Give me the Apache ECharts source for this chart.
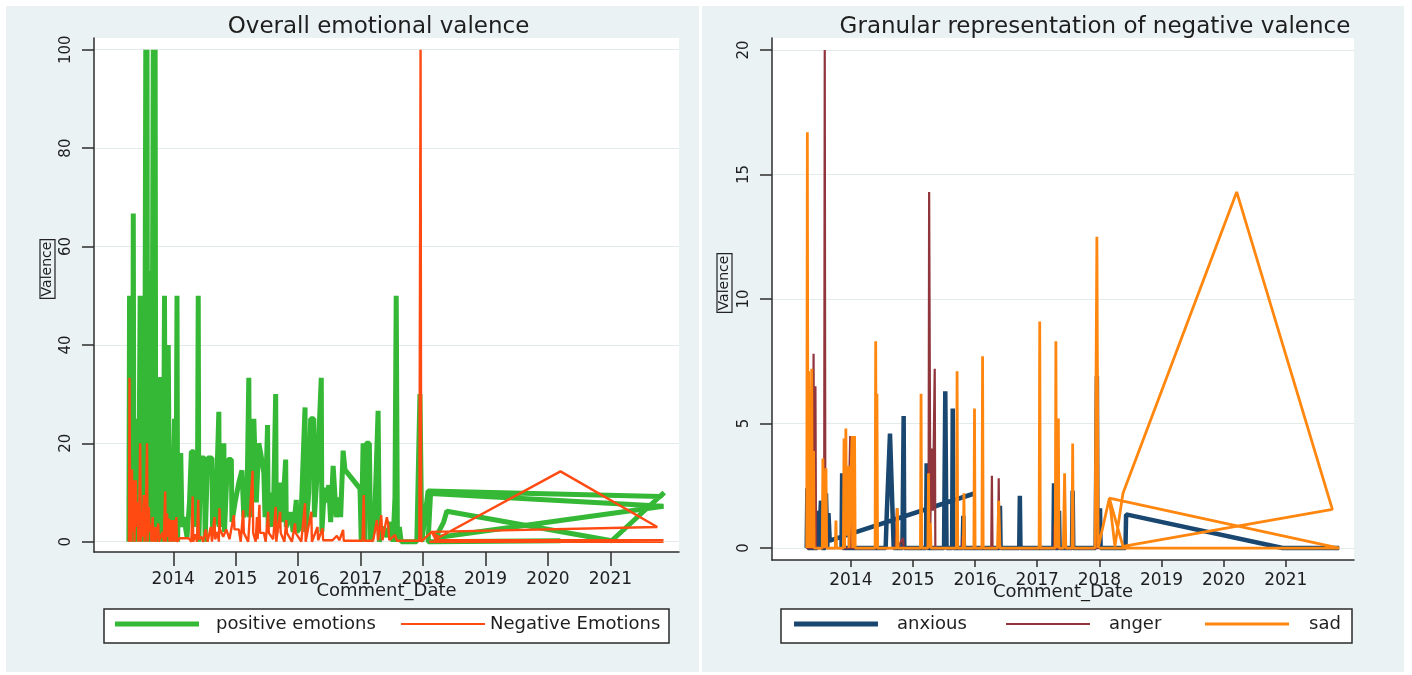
<!DOCTYPE html>
<html>
<head>
<meta charset="utf-8">
<script src="https://cdn.jsdelivr.net/npm/echarts@6/dist/echarts.min.js"></script>
<style>
html, body { margin: 0; padding: 0; background: #ffffff; }
#chart { width: 1412px; height: 675px; }
</style>
</head>
<body>
<div id="chart"></div>
<script>
// tick labels
const yearTicks = [2014, 2015, 2016, 2017, 2018, 2019, 2020, 2021]
const overallTicks = [0, 20, 40, 60, 80, 100]
const granularTicks = [0, 5, 10, 15, 20]

// [Comment_Date as decimal year, valence] in the order the rows are plotted
const positiveEmotions = [
    [2013.29,0],[2013.30,50],[2013.305,20],[2013.31,50],[2013.32,0],[2013.33,12],[2013.34,25],[2013.35,0],[2013.36,66.7],[2013.37,5],
    [2013.38,20],[2013.39,25],[2013.40,0],[2013.41,25],[2013.42,2],[2013.43,15],[2013.44,20],[2013.45,0],[2013.46,30],[2013.47,50],[2013.48,10],
    [2013.49,40],[2013.50,50],[2013.51,0],[2013.52,20],[2013.53,33],[2013.54,5],[2013.55,50],[2013.56,100],[2013.57,30],[2013.58,100],[2013.59,0],
    [2013.60,33],[2013.61,55],[2013.62,10],[2013.63,40],[2013.64,0],[2013.65,25],[2013.66,20],[2013.68,100],[2013.69,50],[2013.71,100],
    [2013.72,0],[2013.73,20],[2013.74,33.3],[2013.75,5],[2013.76,16],[2013.77,25],[2013.78,0],[2013.79,12],[2013.80,33.5],[2013.81,3],[2013.82,10],[2013.83,20],
    [2013.84,0],[2013.85,25],[2013.86,50],[2013.87,5],[2013.88,20],[2013.89,40],[2013.90,0],[2013.91,15],[2013.92,40],[2013.93,20],[2013.94,0],
    [2013.96,10],[2013.97,18],[2013.98,0],[2014.00,12],[2014.02,25],[2014.03,3],[2014.05,20],[2014.06,50],[2014.07,0],[2014.09,18],[2014.10,5],
    [2014.12,18],[2014.14,3],[2014.17,5],[2014.22,1],[2014.26,8],[2014.29,18.3],[2014.33,18.3],[2014.35,3],
    [2014.39,18],[2014.40,50],[2014.41,0],[2014.44,17],[2014.50,17],[2014.51,0],[2014.55,17],[2014.62,17],
    [2014.63,2],[2014.68,5],[2014.73,26.4],[2014.74,3],[2014.78,15],[2014.81,20],[2014.82,2],[2014.86,14],
    [2014.88,16.7],[2014.93,16.7],[2014.94,4],[2014.99,8],[2015.05,12],[2015.10,14.5],[2015.13,5],[2015.18,8],
    [2015.21,33.3],[2015.22,5],[2015.26,20],[2015.29,25],[2015.32,25],[2015.33,8],[2015.37,20],[2015.40,18],
    [2015.45,14],[2015.47,5],[2015.51,23.7],[2015.52,3],[2015.57,10],[2015.60,3],[2015.64,30],[2015.65,2],
    [2015.70,12],[2015.74,4],[2015.80,16.7],[2015.81,3],[2015.88,6],[2015.92,2],[2015.97,8.5],[2015.98,2],
    [2016.04,3],[2016.11,27.3],[2016.12,2],[2016.17,10],[2016.20,25],[2016.25,25],[2016.26,5],[2016.31,15],
    [2016.37,33.3],[2016.38,2],[2016.42,11],[2016.45,8],[2016.49,11.5],[2016.52,4],[2016.56,15.4],[2016.59,15.2],
    [2016.61,5],[2016.65,9],[2016.68,5],[2016.72,18.5],[2016.75,14.6],[2016.99,10.8],[2017.01,0],[2017.04,20],
    [2017.07,0],[2017.09,20],[2017.14,20],[2017.16,0],[2017.22,3],[2017.28,26.6],[2017.30,0],[2017.36,3],
    [2017.42,1],[2017.48,4],[2017.52,0],[2017.55,9],[2017.57,50],[2017.59,0],[2017.62,3],[2017.65,0],
    [2017.90,0],[2017.95,30],[2017.98,0],[2018.08,10.3],[2021.80,9.2],[2021.86,10],[2021.02,0.2],[2018.38,6.2],
    [2018.33,4],[2018.20,0.8],[2021.85,7.2],[2018.12,9.8],[2018.08,0],[2020.20,0.2],[2018.15,0]
]

const negativeEmotions = [
    [2013.29,0],[2013.30,33.3],[2013.31,0],[2013.32,8],[2013.33,0],[2013.34,14.7],[2013.35,2],[2013.36,10],[2013.37,12.5],
    [2013.38,0],[2013.39,8],[2013.40,12.5],[2013.41,3],[2013.42,6],[2013.43,8],[2013.44,0],[2013.46,10],[2013.47,20],[2013.48,0],[2013.50,6],
    [2013.51,1],[2013.52,7],[2013.53,9.5],[2013.54,0],[2013.56,3],[2013.57,12],[2013.58,20],[2013.59,0],[2013.60,5],[2013.61,7],[2013.62,2],
    [2013.64,3.5],[2013.65,0],[2013.67,5],[2013.68,0],[2013.71,3],[2013.72,0],[2013.76,3.7],[2013.77,0],
    [2013.80,1],[2013.83,2],[2013.85,0],[2013.87,10.2],[2013.88,0],[2013.90,5.8],[2013.91,1],[2013.93,4.7],
    [2013.94,0],[2013.97,4.4],[2013.98,0],[2014.01,4.4],[2014.02,0],[2014.05,5],[2014.06,0],[2014.10,0.7],
    [2014.25,0.7],[2014.29,0],[2014.31,9.2],[2014.32,0],[2014.35,1.5],[2014.38,0],[2014.40,8.5],[2014.41,0.5],
    [2014.45,1],[2014.48,0],[2014.52,2.5],[2014.55,0],[2014.60,3],[2014.62,0],[2014.66,5],[2014.67,0.5],
    [2014.71,2],[2014.73,0],[2014.74,6.8],[2014.75,2.5],[2014.80,1],[2014.85,2.5],[2014.90,0.5],[2014.97,5.4],
    [2014.98,2.5],[2015.05,2.5],[2015.08,0],[2015.12,6.4],[2015.13,1.8],[2015.20,0],[2015.27,14.4],[2015.28,1.8],
    [2015.32,0],[2015.34,5],[2015.35,0.5],[2015.38,7.5],[2015.39,1.8],[2015.45,1.8],[2015.48,0],[2015.52,6.1],
    [2015.53,1.8],[2015.60,0.5],[2015.64,7.1],[2015.65,0],[2015.71,6.1],[2015.72,1.8],[2015.78,0],[2015.81,4.4],
    [2015.82,1.8],[2015.90,0],[2015.95,3.7],[2015.96,1.8],[2016.05,0],[2016.11,7.8],[2016.12,0],[2016.21,6.1],
    [2016.22,0],[2016.31,3],[2016.32,0.3],[2016.39,2.7],[2016.40,0.3],[2016.55,0.3],[2016.62,1.2],[2016.66,0.3],
    [2016.72,2.4],[2016.73,0.2],[2017.03,0.2],[2017.05,9.5],[2017.06,0.2],[2017.20,0.2],[2017.26,4.4],[2017.28,0.3],
    [2017.33,5.4],[2017.35,0.3],[2017.42,5],[2017.44,3.7],[2017.46,0.3],[2017.55,1.4],[2017.58,0.2],[2017.94,0.2],
    [2017.96,100],[2017.97,0],[2018.14,2.0],[2018.20,0.5],[2020.20,14.3],[2021.75,3.0],[2018.12,2.0],[2018.25,1.0],
    [2018.18,0.3],[2021.85,0.3],[2018.10,0],[2021.85,0]
]

const anxious = [
    [2013.29,0],[2013.30,2.4],[2013.31,0],[2013.46,0],[2013.47,1.5],[2013.48,0],[2013.51,0],[2013.52,1.9],
    [2013.53,0],[2013.59,0],[2013.60,2.2],[2013.62,0],[2013.64,1.4],[2013.66,0.3],[2016.00,2.2],[2016.00,null],
    [2013.85,0],[2013.86,3.0],[2013.87,0],[2014.56,0],[2014.58,1.5],[2014.63,4.6],[2014.69,0],[2014.83,0],
    [2014.85,5.3],[2014.86,0],[2015.21,0],[2015.22,3.4],[2015.23,0],[2015.50,0],[2015.52,6.3],[2015.54,0],
    [2015.63,0],[2015.64,5.6],[2015.65,0],[2015.80,0],[2015.81,1.3],[2015.82,0],[2016.39,0],[2016.40,1.7],
    [2016.41,0],[2016.71,0],[2016.72,2.1],[2016.73,0],[2017.26,0],[2017.27,2.6],[2017.28,0],[2017.34,0],
    [2017.35,1.5],[2017.36,0],[2017.56,0],[2017.57,2.3],[2017.58,0],[2017.94,0],[2017.96,6.9],[2017.97,0],
    [2018.01,1.6],[2018.02,0],[2018.42,0],[2018.43,1.35],[2020.95,0],[2021.86,0]
]

const anger = [
    [2013.29,0],[2013.39,0],[2013.40,7.8],[2013.41,0],[2013.43,6.5],[2013.44,0],[2013.57,0],[2013.58,20],
    [2013.59,0],[2013.61,1.4],[2013.62,0],[2013.97,0],[2013.98,3.3],[2013.99,4.5],[2014.00,0],[2014.72,0],
    [2014.74,1.6],[2014.75,0],[2014.84,0.4],[2014.85,0],[2015.25,0],[2015.26,14.3],[2015.28,1.0],[2015.30,4.0],
    [2015.32,1.5],[2015.35,7.2],[2015.36,0],[2015.79,0],[2015.80,0.5],[2015.81,0],[2016.26,0],[2016.27,2.9],
    [2016.28,0],[2016.37,0],[2016.38,2.8],[2016.39,0],[2017.27,0],[2017.28,1.0],[2017.29,0],[2017.94,0],
    [2017.95,1.6],[2017.96,0],[2018.00,0]
]

const sad = [
    [2013.29,0],[2013.30,16.7],[2013.31,0],[2013.32,7.1],[2013.33,0.5],[2013.34,6.2],[2013.35,0],[2013.37,7.2],
    [2013.38,0],[2013.40,3.9],[2013.41,0],[2013.54,0],[2013.55,3.6],[2013.57,0],[2013.60,3.2],[2013.61,0],
    [2013.75,0],[2013.76,1.1],[2013.77,0],[2013.88,0],[2013.89,4.4],[2013.90,0],[2013.92,4.8],[2013.93,0.5],
    [2013.96,3.3],[2013.97,0],[2014.02,4.5],[2014.03,0],[2014.06,4.5],[2014.07,0],[2014.39,0],[2014.40,8.3],
    [2014.41,0],[2014.42,6.2],[2014.43,0],[2014.74,0],[2014.75,1.6],[2014.76,0],[2015.12,0],[2015.13,6.2],
    [2015.14,0],[2015.24,0],[2015.25,3.0],[2015.26,0],[2015.28,1.0],[2015.29,0],[2015.70,0],[2015.71,7.1],
    [2015.72,0],[2015.81,0],[2015.82,2.2],[2015.83,0],[2015.98,0],[2015.99,5.6],[2016.00,0],[2016.11,0],
    [2016.12,7.7],[2016.13,0],[2016.36,0],[2016.38,1.9],[2016.40,0],[2017.03,0],[2017.04,9.1],[2017.05,0],
    [2017.29,0],[2017.30,8.3],[2017.31,0],[2017.34,5.2],[2017.35,0],[2017.42,0],[2017.44,3.0],[2017.46,0],
    [2017.56,0],[2017.57,4.2],[2017.58,0],[2017.93,0],[2017.96,12.5],[2017.98,0],[2018.16,2.0],[2018.25,0.07],
    [2018.38,2.2],[2020.21,14.3],[2021.75,1.55],[2018.38,0.07],[2018.16,2.0],[2021.86,0],[2018.00,0]
]

const FONT = '"DejaVu Sans", sans-serif'
const TEXT_COLOR = '#1e1e1e'
const AXIS_COLOR = '#2e2e2e'
const GRID_COLOR = '#e2eaec'
const PANEL_COLOR = '#eaf2f3'

function xAxisFor(gridIndex, tickLength, labelMargin, nameGap) {
    return {
        type: 'value',
        gridIndex: gridIndex,
        min: 2012.731,
        max: 2022.098,
        name: 'Comment_Date',
        nameLocation: 'middle',
        nameGap: nameGap,
        nameMoveOverlap: false,
        nameTextStyle: { fontFamily: FONT, fontSize: 18, color: TEXT_COLOR },
        axisLine: { show: true, onZero: false, lineStyle: { color: AXIS_COLOR, width: 1.5 } },
        axisTick: { show: true, customValues: yearTicks, length: tickLength, lineStyle: { color: AXIS_COLOR, width: 1.5 } },
        axisLabel: {
            customValues: yearTicks,
            margin: labelMargin,
            fontFamily: FONT,
            fontSize: 17,
            color: TEXT_COLOR,
            formatter: (v) => String(Math.round(v)),
        },
        splitLine: { show: false },
    }
}

function yAxisFor(gridIndex, min, max, ticks) {
    return {
        type: 'value',
        gridIndex: gridIndex,
        min: min,
        max: max,
        axisLine: { show: true, onZero: false, lineStyle: { color: AXIS_COLOR, width: 1.5 } },
        axisTick: { show: true, customValues: ticks, length: 12, lineStyle: { color: AXIS_COLOR, width: 1.5 } },
        axisLabel: {
            customValues: ticks,
            rotate: 90,
            margin: 20,
            fontFamily: FONT,
            fontSize: 15,
            color: TEXT_COLOR,
        },
        splitLine: { show: true, lineStyle: { color: GRID_COLOR, width: 1.2 } },
    }
}

function lineSeries(name, data, index, color, width) {
    return {
        name: name,
        type: 'line',
        xAxisIndex: index,
        yAxisIndex: index,
        data: data,
        symbol: 'none',
        showSymbol: false,
        silent: true,
        itemStyle: { color: color },
        lineStyle: { color: color, width: width, join: 'bevel' },
        emphasis: { disabled: true },
    }
}

function legendItem(name, left, height, gap) {
    return {
        data: [name],
        left: left,
        top: 615,
        padding: 0,
        icon: 'rect',
        itemWidth: 84,
        itemHeight: height,
        selectedMode: false,
        textStyle: { fontFamily: FONT, fontSize: 18, color: TEXT_COLOR, padding: [0, 0, 0, gap] },
    }
}

function panelTitle(text, x) {
    return {
        type: 'text', x: x, y: 27, z: 5,
        style: { text: text, font: '23px "DejaVu Sans", sans-serif', fill: TEXT_COLOR, align: 'center', verticalAlign: 'middle' },
    }
}

function valenceLabel(x, y) {
    return {
        type: 'text', x: x, y: y, z: 5, rotation: Math.PI / 2,
        style: {
            text: 'Valence', font: '14px "DejaVu Sans", sans-serif', fill: TEXT_COLOR,
            align: 'center', verticalAlign: 'middle',
            borderColor: '#222', borderWidth: 1.2, padding: [1, 2, 0, 2],
        },
    }
}

const chart = echarts.init(document.getElementById('chart'), null, { renderer: 'canvas' })

chart.setOption({
    animation: false,
    backgroundColor: '#ffffff',
    grid: [
        { left: 94, top: 38, width: 585, height: 514, show: true, backgroundColor: '#ffffff', borderWidth: 0, outerBoundsMode: 'none' },
        { left: 772, top: 38, width: 582, height: 522, show: true, backgroundColor: '#ffffff', borderWidth: 0, outerBoundsMode: 'none' },
    ],
    xAxis: [
        xAxisFor(0, 14, 19, 30),
        xAxisFor(1, 7, 12, 23),
    ],
    yAxis: [
        yAxisFor(0, -2.09, 102.38, overallTicks),
        yAxisFor(1, -0.48, 20.48, granularTicks),
    ],
    legend: [
        legendItem('positive emotions', 115, 5, 12),
        legendItem('Negative Emotions', 401, 2, 0),
        legendItem('anxious', 794, 5, 14),
        legendItem('anger', 1006, 2, 14),
        legendItem('sad', 1205, 3, 15),
    ],
    graphic: {
        elements: [
            { type: 'rect', z: -10, shape: { x: 6, y: 6, width: 693, height: 666 }, style: { fill: PANEL_COLOR } },
            { type: 'rect', z: -10, shape: { x: 702, y: 6, width: 702, height: 666 }, style: { fill: PANEL_COLOR } },
            { type: 'rect', z: 1, shape: { x: 104, y: 609, width: 565, height: 34 }, style: { fill: '#ffffff', stroke: '#2b2b2b', lineWidth: 1.5 } },
            { type: 'rect', z: 1, shape: { x: 781, y: 609, width: 571, height: 34 }, style: { fill: '#ffffff', stroke: '#2b2b2b', lineWidth: 1.5 } },
            panelTitle('Overall emotional valence', 378.5),
            panelTitle('Granular representation of negative valence', 1095),
            valenceLabel(47.5, 269),
            valenceLabel(724.5, 283),
        ],
    },
    series: [
        lineSeries('positive emotions', positiveEmotions, 0, '#35b835', 5),
        lineSeries('Negative Emotions', negativeEmotions, 0, '#ff4a12', 2.4),
        lineSeries('anxious', anxious, 1, '#1a476f', 4.5),
        lineSeries('anger', anger, 1, '#90353b', 2.2),
        lineSeries('sad', sad, 1, '#ff870f', 2.8),
    ],
})
</script>
</body>
</html>
